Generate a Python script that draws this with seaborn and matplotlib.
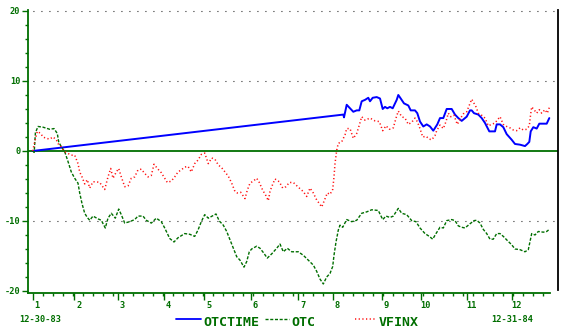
import numpy as np
import pandas as pd
import matplotlib
matplotlib.use("Agg")
import matplotlib.pyplot as plt
import matplotlib.transforms as mtransforms
from matplotlib.lines import Line2D
import seaborn as sns

# ---- data (x in weeks from 12-30-83, y in percent) ----
otctime_week = [0, 31.06, 31.13, 31.4, 31.73, 32.06, 32.4, 32.66, 32.9, 33.23,
                33.56, 33.73, 34.0, 34.4, 34.73, 35.0, 35.23, 35.46, 35.73, 36.0,
                36.4, 36.56, 36.8, 37.13, 37.56, 37.8, 38.23, 38.46, 38.73, 39.06,
                39.4, 39.73, 40.06, 40.46, 40.73, 41.06, 41.4, 41.9, 42.23, 42.56,
                42.9, 43.4, 43.73, 43.9, 44.13, 44.56, 44.9, 45.23, 45.66, 46.23,
                46.4, 46.73, 47.06, 47.4, 47.9, 48.23, 48.73, 49.23, 49.46, 49.66,
                49.8, 50.06, 50.4, 50.66, 51.06, 51.4, 51.66]
otctime_val = [0, 5.2, 4.8, 6.6, 6.1, 5.6, 5.8, 5.8, 7.1, 7.3,
               7.6, 7.1, 7.6, 7.7, 7.5, 6.0, 6.3, 6.1, 6.3, 6.1,
               7.3, 8.0, 7.5, 6.8, 6.5, 5.8, 5.8, 5.4, 4.2, 3.5,
               3.8, 3.5, 2.9, 3.8, 4.7, 4.7, 6.0, 6.0, 5.2, 4.7,
               4.3, 4.9, 5.8, 5.8, 5.4, 5.2, 4.7, 4.0, 2.8, 2.8,
               3.8, 3.8, 3.4, 2.4, 1.6, 1.0, 0.9, 0.7, 1.0, 1.3,
               2.8, 3.4, 3.2, 3.9, 3.9, 3.9, 4.7]

otc_week = [0, 0.15, 0.27, 0.53, 1.03, 1.7, 2.13, 2.46, 2.6, 2.86, 3.2, 3.53, 3.86, 4.2,
            4.53, 4.7, 4.93, 5.2, 5.46, 5.7, 6.03, 6.53, 6.86, 7.26, 7.53, 7.86, 8.26, 8.6,
            8.86, 9.2, 9.7, 10.2, 10.53, 11.03, 11.36, 11.86, 12.36, 12.86, 13.2, 13.7, 14.13,
            14.53, 15.2, 15.7, 16.2, 16.53, 16.86, 17.2, 17.56, 18.33, 18.66, 19.06, 19.4,
            19.73, 20.06, 20.4, 20.73, 21.13, 21.4, 21.66, 21.9, 22.4, 22.73, 23.06, 23.46,
            23.9, 24.4, 24.73, 25.06, 25.46, 25.9, 26.56, 27.06, 27.56, 28.06, 28.4, 28.73,
            29.06, 29.4, 29.73, 30.0, 30.13, 30.33, 30.56, 30.73, 31.0, 31.4, 31.9, 32.4,
            32.9, 33.4, 33.9, 34.56, 35.0, 35.33, 35.73, 36.06, 36.56, 36.9, 37.4, 37.9,
            38.33, 38.73, 39.23, 39.66, 40.0, 40.33, 40.73, 41.06, 41.4, 41.9, 42.23, 42.56,
            42.9, 43.23, 43.73, 44.13, 44.4, 44.73, 45.06, 45.4, 45.73, 46.06, 46.4, 46.73,
            47.06, 47.4, 47.9, 48.23, 48.73, 49.23, 49.56, 49.9, 50.23, 50.56, 51.06, 51.4,
            51.66]
otc_val = [0, -0.2, 2.6, 3.5, 3.4, 3.1, 3.2, 2.5, 1.3, 0.6, -0.1, -1.5, -3.0, -3.9,
           -4.6, -6.0, -7.5, -8.9, -9.5, -9.9, -9.3, -9.7, -9.9, -11.0, -9.6, -8.9, -9.6, -8.3,
           -9.1, -10.3, -10.1, -9.8, -9.3, -9.3, -9.9, -10.3, -9.6, -10.1, -11.0, -12.5, -13.0,
           -12.4, -11.8, -11.9, -12.2, -11.3, -10.1, -9.1, -9.6, -9.0, -10.0, -10.6, -11.5,
           -12.7, -13.9, -15.1, -15.6, -16.6, -15.8, -14.4, -14.0, -13.6, -13.9, -14.5, -15.3,
           -14.7, -13.9, -13.3, -14.4, -13.9, -14.4, -14.4, -14.9, -15.6, -16.3, -17.2, -18.3,
           -19.0, -18.0, -17.5, -16.5, -14.9, -13.0, -11.3, -10.6, -10.9, -9.8, -10.1, -9.9,
           -8.9, -8.7, -8.4, -8.5, -9.8, -9.3, -9.5, -9.3, -8.2, -8.9, -9.1, -9.95,
           -10.1, -11.0, -11.8, -12.2, -12.6, -11.8, -10.9, -11.0, -9.95, -9.8, -9.95, -10.7,
           -10.9, -11.0, -10.4, -9.95, -9.9, -10.3, -11.2, -11.8, -12.6, -12.6, -11.8, -11.8,
           -12.2, -12.7, -13.4, -14.0, -14.1, -14.4, -14.1, -11.8, -12.0, -11.5, -11.6, -11.5,
           -11.2]

vfinx_week = [0, 0.2, 0.46, 0.8, 1.03, 1.36, 1.7, 2.03, 2.36, 2.6,
              2.86, 3.2, 3.46, 3.86, 4.2, 4.53, 4.7, 4.93, 5.2, 5.46,
              5.7, 6.03, 6.36, 6.7, 7.2, 7.53, 7.8, 8.03, 8.36, 8.6,
              8.86, 9.2, 9.53, 9.86, 10.2, 10.53, 10.86, 11.2, 11.53, 11.86,
              12.13, 12.53, 12.86, 13.2, 13.46, 13.86, 14.2, 14.53, 14.86, 15.2,
              15.53, 15.86, 16.2, 16.53, 16.86, 17.2, 17.56, 17.9, 18.23, 18.56,
              18.9, 19.23, 19.56, 19.9, 20.23, 20.46, 20.8, 21.23, 21.46, 21.73,
              22.06, 22.4, 22.66, 23.0, 23.33, 23.56, 23.73, 23.9, 24.23, 24.66,
              25.0, 25.33, 25.66, 26.06, 26.66, 27.06, 27.4, 27.73, 28.06, 28.4,
              28.66, 28.9, 29.13, 29.46, 29.73, 30.0, 30.13, 30.23, 30.4, 30.56,
              30.9, 31.23, 31.4, 31.73, 32.06, 32.4, 32.66, 32.9, 33.23, 33.73,
              34.23, 34.66, 35.0, 35.33, 35.66, 36.06, 36.33, 36.56, 36.9, 37.23,
              37.56, 37.9, 38.23, 38.46, 38.73, 39.0, 39.33, 39.66, 39.9, 40.23,
              40.4, 40.73, 41.06, 41.33, 41.56, 41.8, 42.13, 42.46, 42.8, 43.06,
              43.4, 43.73, 43.9, 44.13, 44.33, 44.56, 44.9, 45.23, 45.56, 45.9,
              46.23, 46.73, 47.06, 47.4, 47.73, 48.06, 48.4, 48.73, 49.06, 49.4,
              49.66, 49.8, 49.9, 50.13, 50.4, 50.66, 50.9, 51.23, 51.46, 51.66]
vfinx_val = [0, 1.3, 2.8, 2.5, 2.0, 1.8, 1.7, 2.0, 1.6, 0.9,
             0.6, -0.1, -0.3, -0.6, -0.6, -1.8, -3.0, -3.7, -4.7, -4.1,
             -5.3, -4.4, -4.4, -4.5, -5.5, -3.7, -2.5, -3.9, -3.0, -2.5,
             -3.7, -5.1, -5.0, -3.9, -3.7, -2.7, -2.6, -3.2, -3.7, -3.5,
             -1.9, -2.6, -3.1, -3.9, -4.5, -4.3, -3.7, -3.0, -2.7, -2.3,
             -2.2, -3.0, -1.8, -1.3, -0.5, -0.3, -1.8, -1.0, -1.2, -2.0,
             -2.4, -3.0, -3.6, -4.6, -5.8, -6.0, -5.9, -6.8, -5.6, -4.6,
             -4.3, -3.9, -4.5, -5.6, -6.4, -7.1, -5.8, -5.1, -4.0, -4.4,
             -5.3, -5.1, -4.5, -4.5, -5.3, -5.8, -6.5, -5.3, -6.0, -7.0,
             -7.5, -8.0, -7.2, -6.0, -6.2, -5.5, -3.7, -1.8, 0.1, 1.1,
             1.3, 2.3, 3.2, 3.2, 1.8, 2.5, 3.7, 4.9, 4.4, 4.7,
             4.3, 4.2, 2.9, 3.6, 3.1, 3.3, 4.7, 5.7, 4.9, 4.7,
             3.8, 4.1, 4.7, 4.2, 3.2, 2.0, 2.1, 1.7, 1.6, 2.2,
             2.9, 3.7, 3.2, 4.2, 5.4, 4.9, 5.1, 3.8, 4.7, 5.3,
             5.6, 6.8, 7.4, 6.8, 6.3, 5.4, 5.1, 4.7, 3.6, 3.8,
             4.0, 4.9, 3.8, 3.5, 3.3, 3.0, 2.9, 3.3, 3.0, 3.1,
             3.6, 5.3, 6.3, 5.9, 5.4, 5.9, 5.4, 5.9, 5.4, 6.2]

month_starts = [0, 4.16, 8.50, 13.13, 17.16, 21.83, 26.56, 30.0, 34.9, 38.83, 43.46, 47.9]
month_labels = ["1", "2", "3", "4", "5", "6", "7", "8", "9", "10", "11", "12"]
y_major = [-20, -10, 0, 10, 20]
y_labels = ["-20", "-10", "0", "10", "20"]
grid_levels = [-10, 10, 20]
series_names = ["OTCTIME", "OTC", "VFINX"]
start_label, end_label = "12-30-83", "12-31-84"

GREEN = "#006e00"
BLUE = "#0000ff"
RED = "#ff1010"

sns.set_style("white")
plt.rcParams["font.family"] = ["DejaVu Sans Mono", "DejaVu Sans"]

fig = plt.figure(figsize=(5.73, 3.36), dpi=100)
W, H = 573, 336
ax = fig.add_axes([28 / W, 1 - 293 / H, 530 / W, 283 / H])
ax.set_xlim(-0.47, 52.53)
ax.set_ylim(-20.29, 20.14)

for g in grid_levels:
    ax.axhline(g, xmin=0.01, xmax=0.995, color="black", lw=0.8,
               linestyle=(0, (0.8, 6.4)), zorder=1)
ax.axhline(0, color=GREEN, lw=1.3, zorder=2)

df_t = pd.DataFrame({"week": otctime_week, "val": otctime_val})
df_o = pd.DataFrame({"week": otc_week, "val": otc_val})
df_v = pd.DataFrame({"week": vfinx_week, "val": vfinx_val})

sns.lineplot(data=df_t, x="week", y="val", ax=ax, color=BLUE, lw=1.4,
             estimator=None, sort=False, zorder=3)
sns.lineplot(data=df_o, x="week", y="val", ax=ax, color=GREEN, lw=1.0,
             estimator=None, sort=False, linestyle=(0, (2.2, 1.2)), zorder=4)
sns.lineplot(data=df_v, x="week", y="val", ax=ax, color=RED, lw=1.1,
             estimator=None, sort=False, linestyle=(0, (0.8, 1.6)), zorder=5)

ax.set_xlabel("")
ax.set_ylabel("")

# spines
for s in ["top"]:
    ax.spines[s].set_visible(False)
ax.spines["left"].set_color(GREEN)
ax.spines["left"].set_linewidth(1.3)
ax.spines["bottom"].set_color(GREEN)
ax.spines["bottom"].set_linewidth(1.3)
ax.spines["bottom"].set_bounds(-0.47, 51.7)
ax.spines["right"].set_color("black")
ax.spines["right"].set_linewidth(1.3)
ax.spines["right"].set_bounds(-19.9, 20.14)

# y ticks
ax.set_yticks(y_major)
ax.set_yticklabels(y_labels, fontsize=6.2, fontweight="bold", color=GREEN)
ax.set_yticks([v for v in range(-18, 20, 2) if v % 10 != 0], minor=True)
ax.tick_params(axis="y", which="major", direction="out", length=4, width=1.0,
               color=GREEN, pad=1.5, left=True)
ax.tick_params(axis="y", which="minor", direction="out", length=2, width=1.0,
               color=GREEN, left=True)

# x ticks
ax.set_xticks(month_starts)
ax.set_xticklabels([])
ax.set_xticks(np.arange(1, 52), minor=True)
ax.tick_params(axis="x", which="major", direction="out", length=5, width=1.0,
               color=GREEN, bottom=True)
ax.tick_params(axis="x", which="minor", direction="out", length=2.5, width=1.0,
               color=GREEN, bottom=True)
trans = mtransforms.blended_transform_factory(ax.transData, ax.transAxes)
for m, lab in zip(month_starts, month_labels):
    ax.text(m + 0.45, -0.045, lab, transform=trans, ha="center", va="center",
            fontsize=6.2, fontweight="bold", color=GREEN)

# footer: dates and legend
def fx(px):
    return px / W

def fy(py):
    return 1 - py / H

fig.text(fx(40), fy(319), start_label, ha="center", va="center",
         fontsize=6.2, fontweight="bold", color=GREEN)
fig.text(fx(512), fy(319.5), end_label, ha="center", va="center",
         fontsize=6.2, fontweight="bold", color=GREEN)

handles = [
    (176, 200.5, 319, dict(color=BLUE, lw=1.3, linestyle="-")),
    (265, 289.5, 318.5, dict(color=GREEN, lw=1.0, linestyle=(0, (2.2, 1.2)))),
    (355, 376, 319, dict(color=RED, lw=1.1, linestyle=(0, (0.8, 1.6)))),
]
text_x = [203.5, 291.5, 379]
for (x0, x1, yy, kw), name, tx in zip(handles, series_names, text_x):
    fig.add_artist(Line2D([fx(x0), fx(x1)], [fy(yy), fy(yy)],
                          transform=fig.transFigure, **kw))
    fig.text(fx(tx), fy(322), name, ha="left", va="center", fontsize=9.5,
             fontweight="bold", color=GREEN)

fig.savefig("out.png", dpi=100)
